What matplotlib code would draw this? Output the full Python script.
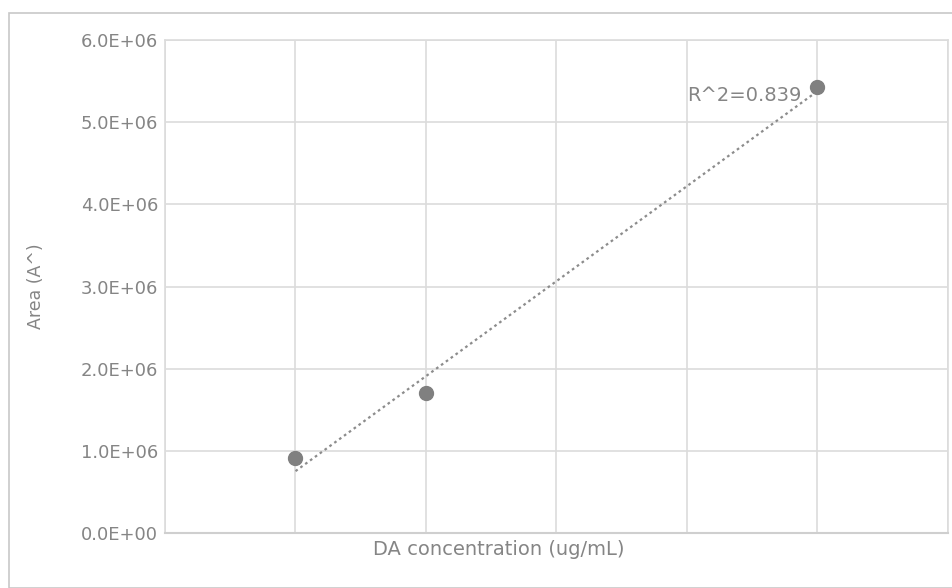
import matplotlib.pyplot as plt
import numpy as np
from matplotlib.patches import Rectangle

plt.rcParams['font.family'] = ['DejaVu Sans']

# dados
conc = [1, 2, 5]
area = [0.91e6, 1.70e6, 5.43e6]
y_ticks = [0, 1e6, 2e6, 3e6, 4e6, 5e6, 6e6]
r2_label = 'R^2=0.839'

fig = plt.figure(figsize=(9.53, 5.88), dpi=100)
ax = fig.add_axes([165/953, 1 - 533/588, (948 - 165)/953, (533 - 40)/588])

# moldura externa
fig.patches.append(Rectangle((9/953, 0), 1.0, 1 - 13/588, transform=fig.transFigure,
                             fill=False, edgecolor='#c8c8c8', linewidth=1.2))

# linha de tendencia (ajuste linear)
coef = np.polyfit(conc, area, 1)
xs = np.array([min(conc), max(conc)])
ax.plot(xs, np.polyval(coef, xs), linestyle=(0, (1.2, 1.5)), color='#8c8c8c', linewidth=1.6, zorder=3)

ax.plot(conc, area, 'o', color='#808080', markersize=10, zorder=4)

ax.text(4.0, 5.33e6, r2_label, fontsize=14, color='#858585', ha='left', va='center')

ax.set_xlim(0, 6)
ax.set_ylim(0, 6e6)
ax.set_xticks(range(7))
ax.set_xticklabels([])
ax.set_yticks(y_ticks)
ax.set_yticklabels(['%.1fE+%02d' % (v / 1e6, 6) if v else '0.0E+00' for v in y_ticks],
                   fontsize=13, color='#858585')
ax.tick_params(length=0, pad=5)
ax.grid(True, color='#dcdcdc', linewidth=1.2)
ax.set_axisbelow(True)
for s in ['top', 'right', 'left']:
    ax.spines[s].set_color('#dcdcdc')
    ax.spines[s].set_linewidth(1.2)
ax.spines['bottom'].set_color('#cfcfcf')
ax.spines['bottom'].set_linewidth(1.5)

ax.set_xlabel('DA concentration (ug/mL)', fontsize=14, color='#858585')
ax.xaxis.set_label_coords((499 - 165) / (948 - 165), -0.015, transform=ax.transAxes)
ax.xaxis.label.set_va('top')
ax.set_ylabel('Area (A^)', fontsize=12.5, color='#858585')
ax.yaxis.set_label_coords((45 - 165) / (948 - 165), 0.5)

fig.savefig('out.png', dpi=100)
